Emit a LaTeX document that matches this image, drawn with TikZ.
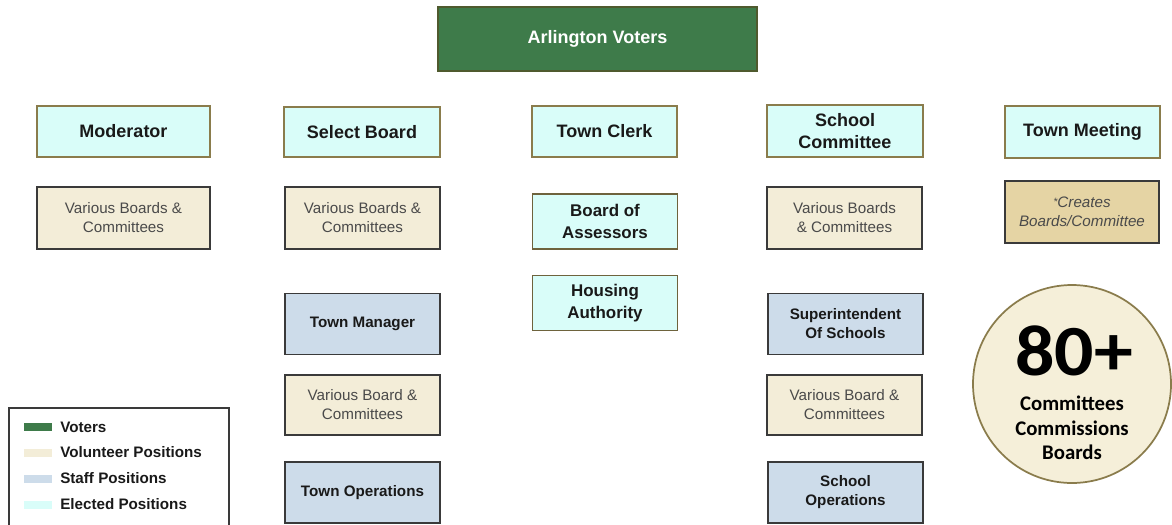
\documentclass[tikz,border=0pt]{standalone}
\usepackage{fontspec}
\setmainfont{Liberation Sans}
\newfontfamily\calib{Carlito}
\definecolor{votegreen}{HTML}{3E7B4A}
\definecolor{voteborder}{HTML}{4F5A2E}
\definecolor{electfill}{HTML}{D9FDF9}
\definecolor{electborder}{HTML}{8A7C4C}
\definecolor{volfill}{HTML}{F3EDD8}
\definecolor{staffill}{HTML}{CDDCEA}
\definecolor{darkborder}{HTML}{3A3A3A}
\definecolor{createfill}{HTML}{E5D4A4}
\definecolor{circfill}{HTML}{F5EFD9}
\definecolor{voltext}{HTML}{4A4A4A}
\tikzset{
  wh/.style 2 args={minimum width=#1*0.75pt, minimum height=#2*0.75pt},
  basebox/.style={draw, line width=1.4pt, inner sep=0pt, align=center},
  voterbox/.style={basebox, fill=votegreen, draw=voteborder, text=white, font=\bfseries\fontsize{13.5}{16}\selectfont},
  electbox/.style={basebox, fill=electfill, draw=electborder, text=black!90, font=\bfseries\fontsize{13.5}{16.5}\selectfont},
  electsmall/.style={basebox, fill=electfill, draw=electborder!80!black, text=black!90, font=\bfseries\fontsize{12.7}{16.5}\selectfont},
  volbox/.style={basebox, fill=volfill, draw=darkborder, text=voltext, font=\fontsize{11.4}{14.3}\selectfont},
  staffbox/.style={basebox, fill=staffill, draw=darkborder, text=black!90, font=\bfseries\fontsize{11.4}{14.3}\selectfont},
  createbox/.style={basebox, fill=createfill, draw=darkborder, text=voltext, font=\itshape\fontsize{11.4}{14.3}\selectfont},
  swatch/.style={minimum width=28*0.75pt, minimum height=8*0.75pt, inner sep=0pt},
  legtext/.style={anchor=west, inner sep=0pt, text=black!90, font=\bfseries\fontsize{11.4}{13}\selectfont},
  circtext/.style={inner sep=0pt, text=black, font=\calib\bfseries\fontsize{15.6}{18}\selectfont}
}
\begin{document}
\begin{tikzpicture}[x=0.75pt,y=-0.75pt]
\useasboundingbox (0,0) rectangle (1172,525);
% top
\node[voterbox, wh={319}{64}] (voters) at (597.5,39) {Arlington Voters};
% elected row
\node[electbox, wh={173}{51}] (moderator) at (123.5,131.5) {Moderator};
\node[electbox, wh={156}{50}] (select) at (362,132) {Select Board};
\node[electbox, wh={145}{51}] (clerk) at (604.5,131.5) {Town Clerk};
\node[electbox, wh={156}{52}] (schoolcom) at (845,131) {School\\Committee};
\node[electbox, wh={155}{52}] (meeting) at (1082.5,132) {Town Meeting};
% second row
\node[volbox, wh={173}{62}] (vbcA) at (123.5,218) {Various Boards \&\\Committees};
\node[volbox, wh={155}{62}] (vbcB) at (362.5,218) {Various Boards \&\\Committees};
\node[electsmall, wh={145}{55}] (assessors) at (605,221.5) {Board of\\Assessors};
\node[volbox, wh={155}{62}] (vbcC) at (844.5,218) {Various Boards\\\& Committees};
\node[createbox, wh={154}{62}] (creates) at (1082,212) {\raisebox{0.25ex}{\fontsize{8}{8}\selectfont*}Creates\\Boards/Committee};
% third row
\node[staffbox, wh={155}{61}] (manager) at (362.5,324) {Town Manager};
\node[electsmall, wh={145}{55}] (housing) at (605,303) {Housing\\Authority};
\node[staffbox, wh={155}{61}] (super) at (845.5,324) {Superintendent\\Of Schools};
% fourth row
\node[volbox, wh={155}{60}] (vbcD) at (362.5,405) {Various Board \&\\Committees};
\node[volbox, wh={155}{60}] (vbcE) at (844.5,405) {Various Board \&\\Committees};
% fifth row
\node[staffbox, wh={155}{61}] (townops) at (362.5,492.5) {Town Operations};
\node[staffbox, wh={155}{61}] (schoolops) at (845.5,492.5) {School\\Operations};
% circle
\node[circle, draw=electborder, line width=1.3pt, fill=circfill, minimum size=198*0.75pt, inner sep=0pt] (circ) at (1072,384) {};
\node[inner sep=0pt, text=black, font=\calib\bfseries\fontsize{54}{54}\selectfont, xscale=1.08] (eighty) at (1074,351) {80+};
\node[circtext] (cA) at (1072,403) {Committees};
\node[circtext] (cB) at (1072,428) {Commissions};
\node[circtext] (cC) at (1072,452) {Boards};
% legend
\draw[line width=1.4pt, draw=darkborder] (9,540) -- (9,408) -- (229,408) -- (229,540);
\node[swatch, fill=votegreen] (sw1) at (38,427) {};
\node[swatch, fill=volfill] (sw2) at (38,453) {};
\node[swatch, fill=staffill] (sw3) at (38,479) {};
\node[swatch, fill=electfill] (sw4) at (38,505) {};
\node[legtext] (l1) at (60,427) {Voters};
\node[legtext] (l2) at (60,452) {Volunteer Positions};
\node[legtext] (l3) at (60,478) {Staff Positions};
\node[legtext] (l4) at (60,504) {Elected Positions};
\end{tikzpicture}
\end{document}
